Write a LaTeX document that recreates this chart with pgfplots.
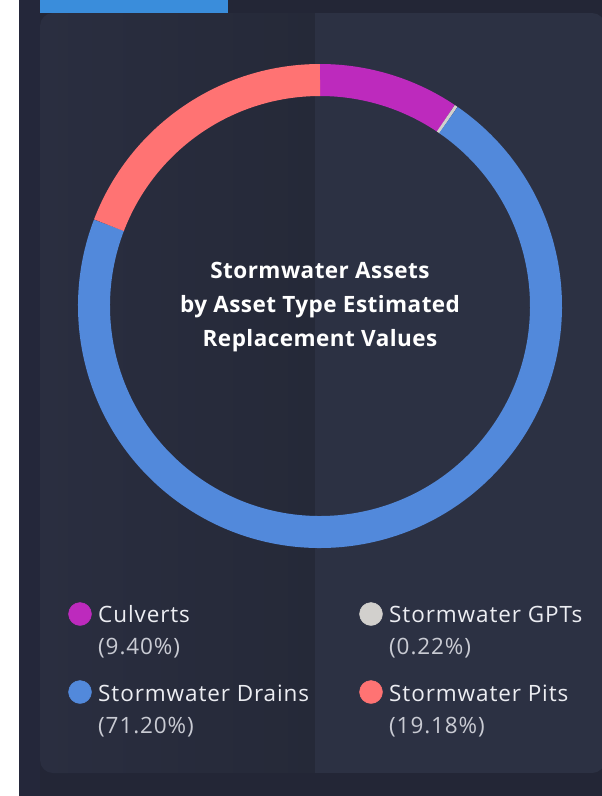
\documentclass[border=0pt]{standalone}
\usepackage{pgfplots}
\pgfplotsset{compat=1.18}
\usepackage{pgfplotstable}
\usepackage{fontspec}
\setmainfont{Open Sans}
\newfontfamily\legfont[LetterSpace=4]{Open Sans}
\newfontfamily\titlefont[LetterSpace=2]{Open Sans}
\definecolor{pagebg}{HTML}{232636}
\definecolor{stripbg}{HTML}{24273A}
\definecolor{cardL}{HTML}{2A2E40}
\definecolor{cardM}{HTML}{252938}
\definecolor{cardR}{HTML}{2C3143}
\definecolor{tabblue}{HTML}{3A8DDB}
\definecolor{culvert}{HTML}{BD2ABD}
\definecolor{gpt}{HTML}{D2D0CD}
\definecolor{drain}{HTML}{5289DB}
\definecolor{pit}{HTML}{FF7373}
\definecolor{pcttext}{HTML}{C9CBD3}
\definecolor{nametext}{HTML}{ECEDF2}

% ring segments: centre (x,y), start (cumulative %), share (%)
\pgfplotstableread{
x y idx start pct
320 306 1 0 9.40
320 306 2 9.40 0.22
320 306 3 9.62 71.20
320 306 4 80.82 19.18
}\ringdata

\begin{document}
\begin{tikzpicture}
\begin{axis}[
  scale only axis, width=602pt, height=796pt,
  xmin=0, xmax=602, ymin=0, ymax=796, y dir=reverse,
  hide axis, clip=true,
]
% backgrounds
\fill[pagebg] (0,0) rectangle (602,796);
\fill[white] (0,0) rectangle (19,796);
\fill[stripbg] (19,0) rectangle (40,796);
\begin{scope}
\clip[rounded corners=13pt] (40,13) rectangle (605,773);
\shade[left color=cardL, right color=cardM] (40,13) rectangle (315,773);
\fill[cardR] (315,13) rectangle (605,773);
\end{scope}
\fill[tabblue] (40,0) rectangle (228,13);

% donut ring
\addplot[scatter, only marks, mark=*, mark size=0pt,
  visualization depends on={\thisrow{idx}\as\segidx},
  visualization depends on={\thisrow{start}\as\segstart},
  visualization depends on={\thisrow{pct}\as\segpct},
  scatter/@pre marker code/.code={%
    \pgfmathtruncatemacro\si{\segidx}%
    \ifnum\si=1 \def\segcol{culvert}\fi
    \ifnum\si=2 \def\segcol{gpt}\fi
    \ifnum\si=3 \def\segcol{drain}\fi
    \ifnum\si=4 \def\segcol{pit}\fi
    \pgfmathsetmacro\sa{90-3.6*\segstart}%
    \pgfmathsetmacro\da{-3.6*\segpct}%
    \draw[line width=32pt, draw=\segcol, line cap=butt] (\sa:226pt) arc[start angle=\sa, delta angle=\da, radius=226pt];
  },
  scatter/@post marker code/.code={},
] table[x=x, y=y] {\ringdata};

% centre title
\node[text=white, font=\titlefont\fontsize{22.5}{34}\selectfont\bfseries, anchor=base] at (320,278) {Stormwater Assets};
\node[text=white, font=\titlefont\fontsize{22.5}{34}\selectfont\bfseries, anchor=base] at (320,312) {by Asset Type Estimated};
\node[text=white, font=\titlefont\fontsize{22.5}{34}\selectfont\bfseries, anchor=base] at (320,346) {Replacement Values};

% legend dots
\addplot[only marks, mark=*, mark size=11.5pt, color=culvert, mark options={fill=culvert, draw=culvert}] coordinates {(80,614)};
\addplot[only marks, mark=*, mark size=11.5pt, color=drain, mark options={fill=drain, draw=drain}] coordinates {(80,692)};
\addplot[only marks, mark=*, mark size=11.5pt, color=gpt, mark options={fill=gpt, draw=gpt}] coordinates {(371,614)};
\addplot[only marks, mark=*, mark size=11.5pt, color=pit, mark options={fill=pit, draw=pit}] coordinates {(371,692)};

% legend text
\node[text=nametext, font=\legfont\fontsize{22.5}{25}\selectfont, anchor=base west, inner xsep=0pt] at (98,622) {Culverts};
\node[text=pcttext, font=\legfont\fontsize{22.5}{25}\selectfont, anchor=base west, inner xsep=0pt] at (98,654) {(9.40\%)};
\node[text=nametext, font=\legfont\fontsize{22.5}{25}\selectfont, anchor=base west, inner xsep=0pt] at (98,701) {Stormwater Drains};
\node[text=pcttext, font=\legfont\fontsize{22.5}{25}\selectfont, anchor=base west, inner xsep=0pt] at (98,733) {(71.20\%)};
\node[text=nametext, font=\legfont\fontsize{22.5}{25}\selectfont, anchor=base west, inner xsep=0pt] at (389,622) {Stormwater GPTs};
\node[text=pcttext, font=\legfont\fontsize{22.5}{25}\selectfont, anchor=base west, inner xsep=0pt] at (389,654) {(0.22\%)};
\node[text=nametext, font=\legfont\fontsize{22.5}{25}\selectfont, anchor=base west, inner xsep=0pt] at (389,701) {Stormwater Pits};
\node[text=pcttext, font=\legfont\fontsize{22.5}{25}\selectfont, anchor=base west, inner xsep=0pt] at (389,733) {(19.18\%)};
\end{axis}
\end{tikzpicture}
\end{document}
